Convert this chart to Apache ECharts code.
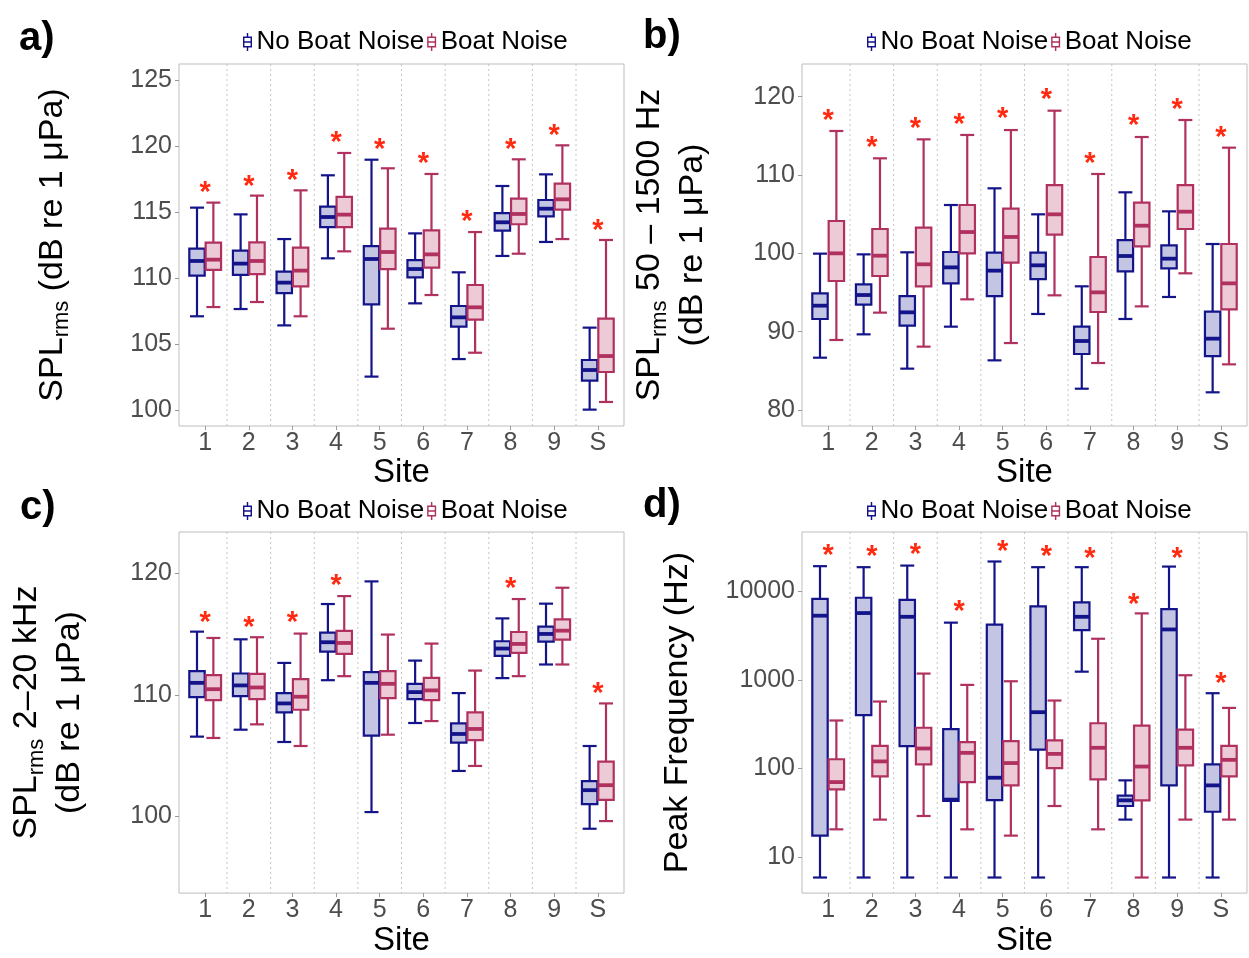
<!DOCTYPE html>
<html>
<head>
<meta charset="utf-8">
<script src="https://cdn.jsdelivr.net/npm/echarts@6/dist/echarts.min.js"></script>
<style>
html,body{margin:0;padding:0;background:#fff;}
#chart{width:1249px;height:958px;}
</style>
</head>
<body>
<div id="chart"></div>
<script>
// ---------- data ----------
const sites = ['1','2','3','4','5','6','7','8','9','S'];
const seriesNames = ['No Boat Noise', 'Boat Noise'];

// each row: [lower whisker, Q1, median, Q3, upper whisker]
// a) SPLrms (dB re 1 uPa)
const splNoBoat = [
  [107.1, 110.18, 111.29, 112.22, 115.33],
  [107.65, 110.23, 111.09, 112.07, 114.82],
  [106.41, 108.86, 109.65, 110.48, 112.95],
  [111.49, 113.86, 114.62, 115.40, 117.78],
  [102.53, 108.01, 111.44, 112.42, 118.96],
  [108.08, 110.05, 110.68, 111.36, 113.38],
  [103.86, 106.31, 107.02, 107.88, 110.43],
  [111.67, 113.59, 114.22, 114.92, 116.97],
  [112.73, 114.67, 115.25, 115.91, 117.85],
  [100.03, 102.22, 103.03, 103.79, 106.24]
];
const splBoat = [
  [107.8, 110.61, 111.39, 112.68, 115.71],
  [108.18, 110.30, 111.29, 112.70, 116.24],
  [107.10, 109.37, 110.56, 112.30, 116.64],
  [112.02, 113.86, 114.80, 116.14, 119.47],
  [106.16, 110.68, 111.97, 113.74, 118.31],
  [108.71, 110.78, 111.79, 113.61, 117.88],
  [104.34, 106.84, 107.78, 109.47, 113.48],
  [111.84, 114.07, 114.85, 116.01, 118.99],
  [112.95, 115.18, 115.96, 117.15, 120.05],
  [100.61, 102.88, 104.09, 106.92, 112.88]
];
const splStars = [116.97, 117.45, 117.90, 120.73, 120.23, 119.14, 114.75, 120.23, 121.31, 114.12];

// b) SPLrms 50 - 1500 Hz
const lowNoBoat = [
  [86.68, 91.62, 93.32, 94.89, 99.96],
  [89.66, 93.45, 94.68, 96.04, 99.87],
  [85.28, 90.77, 92.47, 94.55, 100.13],
  [90.64, 96.17, 98.21, 100.17, 106.17],
  [86.34, 94.55, 97.79, 100.09, 108.30],
  [92.26, 96.72, 98.47, 100.09, 104.98],
  [82.72, 87.15, 88.81, 90.64, 95.79],
  [91.62, 97.70, 99.66, 101.70, 107.79],
  [94.43, 98.09, 99.32, 101.02, 105.36],
  [82.26, 86.89, 89.11, 92.55, 101.19]
];
const lowBoat = [
  [88.94, 96.47, 100.0, 104.13, 115.62],
  [92.43, 97.11, 99.70, 103.11, 112.13],
  [88.09, 95.79, 98.60, 103.28, 114.55],
  [94.13, 100.0, 102.72, 106.17, 115.11],
  [88.55, 98.81, 102.09, 105.70, 115.74],
  [94.64, 102.38, 104.98, 108.72, 118.21],
  [86.0, 92.51, 95.02, 99.53, 110.13],
  [93.23, 100.89, 103.53, 106.47, 114.85],
  [97.45, 103.11, 105.32, 108.72, 117.02],
  [85.83, 92.85, 96.17, 101.19, 113.49]
];
const lowStars = [117.79, 114.30, 116.77, 117.28, 118.0, 120.43, 112.30, 117.11, 119.15, 115.66];

// c) SPLrms 2-20 kHz
const highNoBoat = [
  [106.56, 109.81, 110.98, 111.94, 115.19],
  [107.13, 109.89, 110.77, 111.75, 114.56],
  [106.12, 108.55, 109.29, 110.14, 112.62],
  [111.20, 113.55, 114.32, 115.11, 117.46],
  [100.36, 106.64, 110.98, 111.86, 119.32],
  [107.68, 109.64, 110.22, 110.90, 112.81],
  [103.74, 106.07, 106.78, 107.65, 110.14],
  [111.37, 113.20, 113.80, 114.40, 116.28],
  [112.49, 114.37, 115.0, 115.60, 117.49],
  [98.99, 101.01, 102.16, 102.90, 105.79]
];
const highBoat = [
  [106.45, 109.56, 110.46, 111.61, 114.67],
  [107.57, 109.64, 110.60, 111.72, 114.73],
  [105.79, 108.77, 109.84, 111.28, 115.03],
  [111.53, 113.36, 114.26, 115.25, 118.11],
  [106.72, 109.73, 110.90, 111.94, 114.95],
  [107.84, 109.56, 110.36, 111.39, 114.21],
  [104.15, 106.28, 107.19, 108.55, 111.99],
  [111.53, 113.44, 114.18, 115.16, 117.87],
  [112.49, 114.54, 115.27, 116.20, 118.80],
  [99.62, 101.37, 102.57, 104.51, 109.29]
];
const highStars = [116.50, 116.07, 116.45, 119.51, null, null, null, 119.29, null, 110.66];

// d) Peak frequency (Hz)
const peakNoBoat = [
  [5.85, 17.4, 5320, 8260, 19300],
  [5.85, 400, 5700, 8490, 18800],
  [5.85, 179, 5170, 8050, 19600],
  [5.85, 42.9, 44.4, 278, 4440],
  [5.85, 43.9, 78.5, 4210, 21800],
  [5.85, 163, 432, 6780, 18800],
  [1240, 3660, 5170, 7520, 18800],
  [26.4, 37.6, 43.6, 49.2, 73.3],
  [5.85, 64.3, 3720, 6320, 19100],
  [5.85, 32.4, 64.3, 111, 708]
];
const peakBoat = [
  [20.5, 58.0, 70.1, 127, 348],
  [26.4, 81.3, 120, 180, 570],
  [29.0, 111, 168, 288, 1180],
  [20.5, 70.1, 150, 198, 879],
  [17.4, 64.3, 115, 203, 966],
  [37.6, 101, 146, 207, 585],
  [20.5, 75.2, 171, 324, 2920],
  [5.85, 43.6, 105, 305, 5650],
  [26.4, 108, 171, 275, 1130],
  [26.4, 81.3, 125, 180, 483]
];
const peakStars = [30300, 29500, 30800, 6950, 33600, 29300, 28200, 8490, 28200, 1090];

// tick labels
const ticksA = [100, 105, 110, 115, 120, 125];
const ticksB = [80, 90, 100, 110, 120];
const ticksC = [100, 110, 120];
const ticksD = [10, 100, 1000, 10000];
const panelLabels = ['a)', 'b)', 'c)', 'd)'];

// ---------- styling ----------
const FONT = "'Liberation Sans', Arial, Helvetica, sans-serif";
const NAVY = '#14148a', NAVY_FILL = '#c3c5e3';
const MAROON = '#b03060', MAROON_FILL = '#eccbd6';
const STAR = '#ff2a10';
const DODGE = 0.1875, BOX_W = 0.353, CAP_W = 0.32;

const panels = [
  {grid:{left:179, top:64, width:445, height:362}, ymin:98.79, ymax:126.21, log:false, ticks:ticksA,
   nb:splNoBoat, b:splBoat, stars:splStars,
   name:'{m|SPL}{s|rms}{m| (dB re 1 μPa)}', nameGap:106, lh:40,
   title:{left:14, top:14}, legend:{left:238, top:24}},
  {grid:{left:802, top:64, width:445, height:362}, ymin:77.96, ymax:124.17, log:false, ticks:ticksB,
   nb:lowNoBoat, b:lowBoat, stars:lowStars,
   name:'{m|SPL}{s|rms}{m| 50 – 1500 Hz}\n{m|(dB re 1 μPa)}', nameGap:88, lh:43,
   title:{left:638, top:12}, legend:{left:862, top:24}},
  {grid:{left:179, top:532, width:445, height:362}, ymin:93.70, ymax:123.38, log:false, ticks:ticksC,
   nb:highNoBoat, b:highBoat, stars:highStars,
   name:'{m|SPL}{s|rms}{m| 2–20 kHz}\n{m|(dB re 1 μPa)}', nameGap:88, lh:43,
   title:{left:15, top:483}, legend:{left:238, top:493}},
  {grid:{left:802, top:532, width:445, height:362}, ymin:3.90, ymax:46960, log:true, ticks:ticksD,
   nb:peakNoBoat, b:peakBoat, stars:peakStars,
   name:'{m|Peak Frequency (Hz)}', nameGap:104, lh:40,
   title:{left:638, top:481}, legend:{left:862, top:493}}
];

const xPos = sites.map((s, i) => i + 1);
const dividers = sites.slice(1).map((s, i) => [i + 1.5, 100]);

function boxRender(offset, stroke, fill) {
  return function (params, api) {
    const x = api.value(0) + offset;
    const lo = api.coord([x, api.value(1)]);
    const q1 = api.coord([x, api.value(2)]);
    const md = api.coord([x, api.value(3)]);
    const q3 = api.coord([x, api.value(4)]);
    const hi = api.coord([x, api.value(5)]);
    const cx = md[0];
    const bw = api.coord([x + BOX_W / 2, api.value(3)])[0] - api.coord([x - BOX_W / 2, api.value(3)])[0];
    const cw = api.coord([x + CAP_W / 2, api.value(3)])[0] - api.coord([x - CAP_W / 2, api.value(3)])[0];
    const ls = {stroke: stroke, lineWidth: 2.2, fill: null};
    return {type:'group', children:[
      {type:'line', shape:{x1:cx, y1:hi[1], x2:cx, y2:lo[1]}, style:ls},
      {type:'line', shape:{x1:cx - cw/2, y1:hi[1], x2:cx + cw/2, y2:hi[1]}, style:ls},
      {type:'line', shape:{x1:cx - cw/2, y1:lo[1], x2:cx + cw/2, y2:lo[1]}, style:ls},
      {type:'rect', shape:{x:cx - bw/2, y:q3[1], width:bw, height:q1[1] - q3[1]},
       style:{fill: fill, stroke: stroke, lineWidth: 2.2}},
      {type:'line', shape:{x1:cx - bw/2, y1:md[1], x2:cx + bw/2, y2:md[1]},
       style:{stroke: stroke, lineWidth: 3.8}}
    ]};
  };
}

function starRender(params, api) {
  const p = api.coord([api.value(0), api.value(1)]);
  return {type:'text', x:p[0], y:p[1] + 7,
    style:{text:'*', fill:STAR, fontSize:29, fontWeight:'bold', fontFamily:FONT,
           align:'center', verticalAlign:'middle'}};
}

function dividerRender(params, api) {
  const p = api.coord([api.value(0), api.value(1)]);
  const cs = params.coordSys;
  return {type:'line', shape:{x1:p[0], y1:cs.y, x2:p[0], y2:cs.y + cs.height},
    style:{stroke:'#c4c4c4', lineWidth:1, lineDash:[2, 3]}};
}

const LEGEND_ICON = 'path://M4.2 0H5.8V4H4.2Z M0 4H10V16H0Z M1.6 5.6V14.4H8.4V5.6Z M0 9.1H10V10.9H0Z M4.2 16H5.8V20H4.2Z';

const option = {
  animation:false,
  backgroundColor:'#ffffff',
  textStyle:{fontFamily:FONT},
  title: panels.map((p, i) => ({text:panelLabels[i], left:p.title.left, top:p.title.top,
    textStyle:{fontSize:40, fontWeight:'bold', color:'#000', fontFamily:FONT}})),
  legend: panels.map(p => ({data:seriesNames, left:p.legend.left, top:p.legend.top,
    icon:LEGEND_ICON, itemWidth:12, itemHeight:18, itemGap:3, selectedMode:false,
    textStyle:{fontSize:26, color:'#000', fontFamily:FONT, padding:[0,0,0,-2]}})),
  grid: panels.map(p => Object.assign({show:true, borderColor:'#bdbdbd', borderWidth:1,
    backgroundColor:'#fff', containLabel:false}, p.grid)),
  xAxis: panels.map((p, i) => ({type:'value', gridIndex:i, min:0.4, max:10.6,
    axisLine:{show:false}, splitLine:{show:false},
    axisTick:{show:true, customValues:xPos, length:4, lineStyle:{color:'#9a9a9a'}},
    axisLabel:{customValues:xPos, formatter:(v) => sites[Math.round(v) - 1],
      fontSize:25, color:'#4d4d4d', margin:5, fontFamily:FONT},
    name:'Site', nameLocation:'middle', nameGap:28,
    nameTextStyle:{fontSize:33, color:'#000', fontFamily:FONT}})),
  yAxis: panels.map((p, i) => ({type:p.log ? 'log' : 'value', logBase:10, gridIndex:i,
    min:p.ymin, max:p.ymax,
    axisLine:{show:false}, splitLine:{show:false}, minorSplitLine:{show:false},
    axisTick:{show:true, customValues:p.ticks, length:4, lineStyle:{color:'#9a9a9a'}},
    axisLabel:{customValues:p.ticks, fontSize:25, color:'#4d4d4d', margin:7, fontFamily:FONT,
      formatter:(v) => String(Math.round(v))},
    name:p.name, nameLocation:'middle', nameRotate:90, nameGap:p.nameGap,
    nameTextStyle:{fontFamily:FONT, color:'#000', fontSize:34,
      rich:{m:{fontSize:34, lineHeight:p.lh, color:'#000', fontFamily:FONT},
            s:{fontSize:22, lineHeight:22, color:'#000', fontFamily:FONT, verticalAlign:'bottom'}}}})),
  series: []
};

panels.forEach((p, i) => {
  option.series.push({type:'custom', name:'divider' + i, xAxisIndex:i, yAxisIndex:i, silent:true, z:1,
    renderItem:dividerRender, data:dividers, encode:{x:0, y:1}});
  option.series.push({type:'custom', name:seriesNames[0], xAxisIndex:i, yAxisIndex:i, z:3,
    itemStyle:{color:NAVY}, renderItem:boxRender(-DODGE, NAVY, NAVY_FILL),
    data:p.nb.map((r, k) => [k + 1].concat(r)), encode:{x:0, y:[1,2,3,4,5]}});
  option.series.push({type:'custom', name:seriesNames[1], xAxisIndex:i, yAxisIndex:i, z:3,
    itemStyle:{color:MAROON}, renderItem:boxRender(DODGE, MAROON, MAROON_FILL),
    data:p.b.map((r, k) => [k + 1].concat(r)), encode:{x:0, y:[1,2,3,4,5]}});
  option.series.push({type:'custom', name:'stars' + i, xAxisIndex:i, yAxisIndex:i, z:4, silent:true,
    renderItem:starRender,
    data:p.stars.map((v, k) => v == null ? null : [k + 1, v]).filter(d => d),
    encode:{x:0, y:1}});
});

const chart = echarts.init(document.getElementById('chart'), null, {renderer:'canvas'});
chart.setOption(option);
</script>
</body>
</html>
